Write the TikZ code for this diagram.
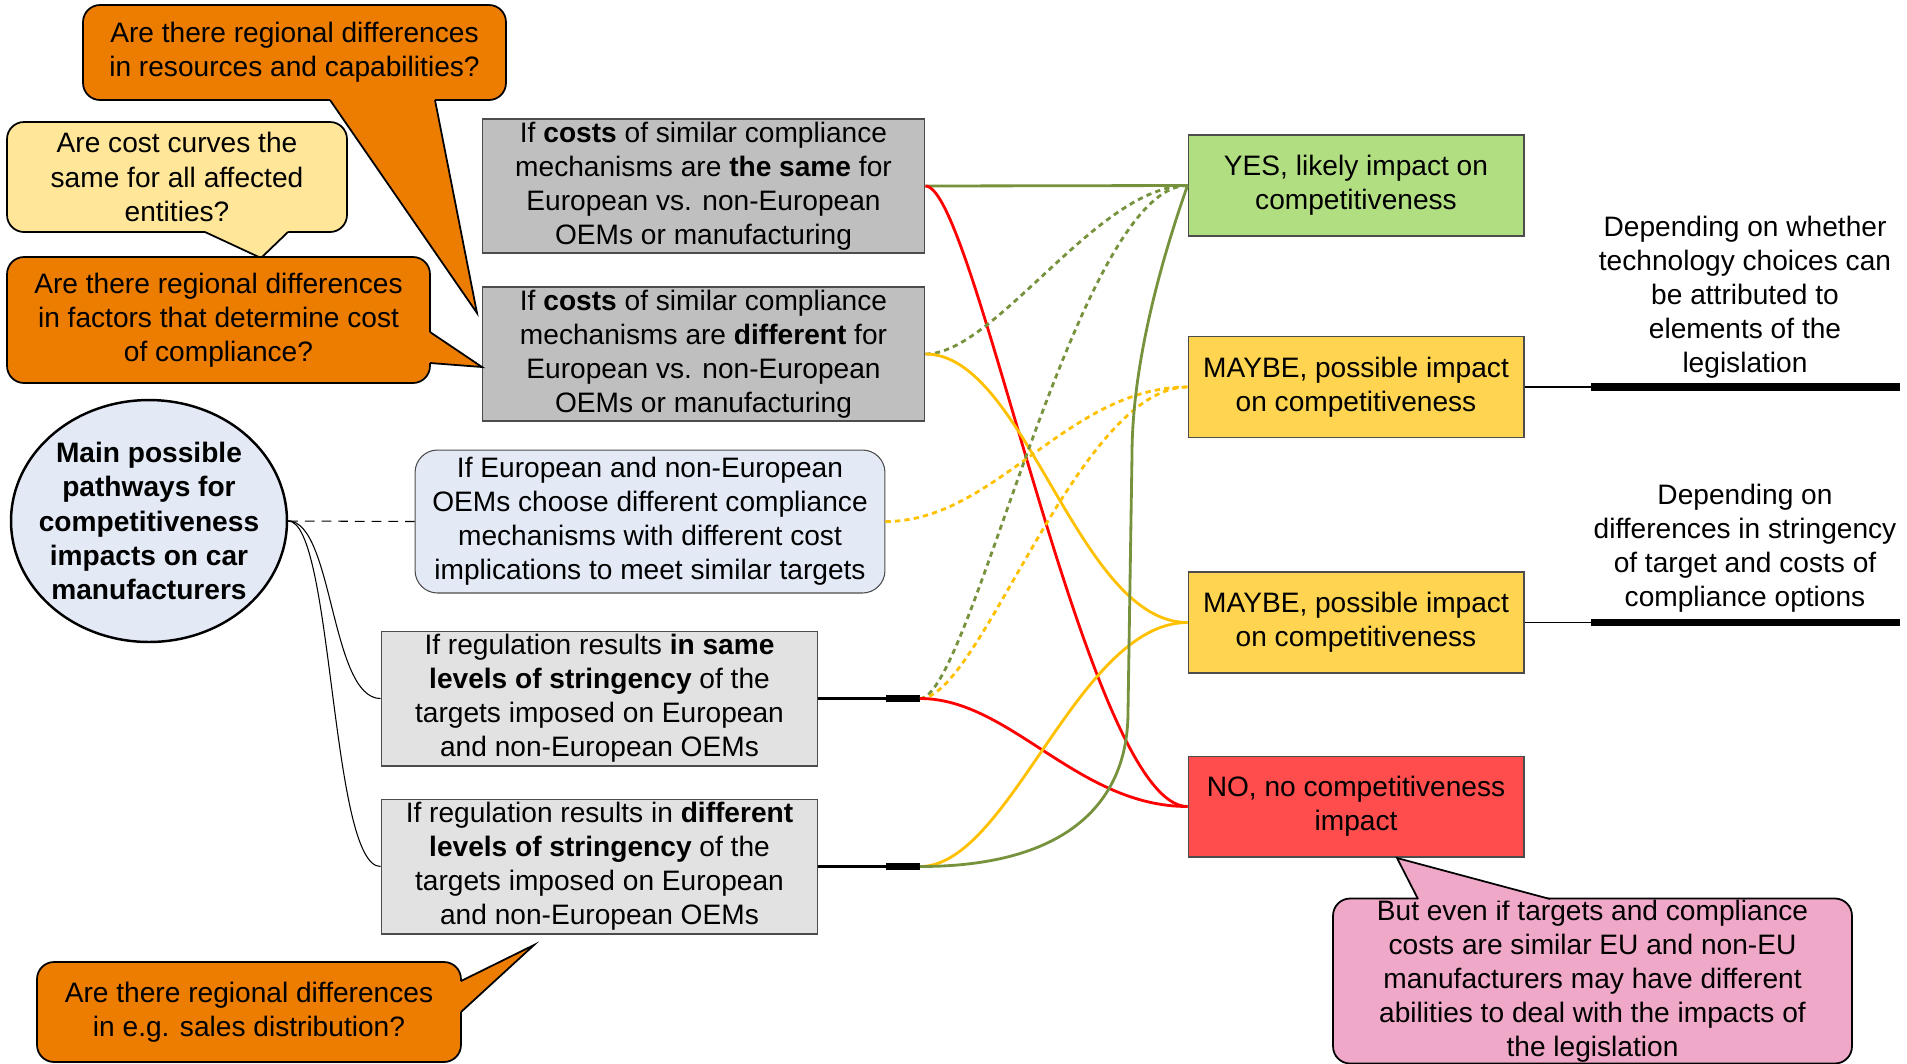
\documentclass[tikz,border=0pt]{standalone}
\usepackage{fontspec}
\setmainfont{Liberation Sans}
\usetikzlibrary{shapes.geometric}

\definecolor{laranja}{RGB}{236,125,0}
\definecolor{amareloclaro}{RGB}{255,230,153}
\definecolor{cinza}{RGB}{191,191,191}
\definecolor{cinzaclaro}{RGB}{226,226,226}
\definecolor{azulclaro}{RGB}{227,234,246}
\definecolor{verde}{RGB}{178,222,130}
\definecolor{amarelo}{RGB}{255,212,80}
\definecolor{vermelho}{RGB}{255,77,77}
\definecolor{rosa}{RGB}{240,168,200}
\definecolor{oliva}{RGB}{118,146,60}
\definecolor{ouro}{RGB}{255,192,0}

\newcommand{\fonte}{\fontsize{16}{19.4}\selectfont}

\tikzset{
	texto/.style={font=\fonte, align=center, inner sep=0pt},
	caixa/.style={texto, draw=black!70, line width=0.6pt},
	balao/.style={texto, draw=black, line width=1pt, rounded corners=0.34cm},
	ponta/.style={draw=black, line width=1pt, line join=miter},
	fio/.style={line width=1.6pt},
	pontilhado/.style={fio, dash pattern=on 3pt off 2.4pt}
}

\begin{document}
\begin{tikzpicture}[x=0.02cm, y=-0.02cm]
		\useasboundingbox (0,0) rectangle (1907,1063);
		\clip (0,0) rectangle (1907,1063);

		% Elipse central
		\node[texto, ellipse, draw=black, line width=1.4pt, fill=azulclaro, inner xsep=-0.3cm, minimum width=5.52cm, minimum height=4.84cm, font=\fonte\bfseries] (main) at (149,521)
			{Main possible\\pathways for\\competitiveness\\impacts on car\\manufacturers};

		% Caixas de custo
		\node[caixa, fill=cinza, minimum width=8.86cm, minimum height=2.68cm] (cS) at (703.5,186)
			{If \textbf{costs} of similar compliance\\mechanisms are \textbf{the same} for\\European vs. non-European\\OEMs or manufacturing};
		\node[caixa, fill=cinza, minimum width=8.86cm, minimum height=2.68cm] (cD) at (703.5,354)
			{If \textbf{costs} of similar compliance\\mechanisms are \textbf{different} for\\European vs. non-European\\OEMs or manufacturing};
		\node[caixa, fill=azulclaro, rounded corners=0.45cm, minimum width=9.4cm, minimum height=2.86cm] (mC) at (650,521.5)
			{If European and non-European\\OEMs choose different compliance\\mechanisms with different cost\\implications to meet similar targets};

		% Caixas de regulação
		\node[caixa, fill=cinzaclaro, minimum width=8.74cm, minimum height=2.7cm] (rS) at (599.5,698.5)
			{If regulation results \textbf{in same}\\\textbf{levels of stringency} of the\\targets imposed on European\\and non-European OEMs};
		\node[caixa, fill=cinzaclaro, minimum width=8.74cm, minimum height=2.7cm] (rD) at (599.5,866.5)
			{If regulation results in \textbf{different}\\\textbf{levels of stringency} of the\\targets imposed on European\\and non-European OEMs};

		% Resultados
		\node[caixa, fill=verde, minimum width=6.72cm, minimum height=2.02cm] (yes) at (1356,185.5)
			{YES, likely impact on\\competitiveness};
		\node[caixa, fill=amarelo, minimum width=6.72cm, minimum height=2.02cm] (mayA) at (1356,387)
			{MAYBE, possible impact\\on competitiveness};
		\node[caixa, fill=amarelo, minimum width=6.72cm, minimum height=2.02cm] (mayB) at (1356,622.5)
			{MAYBE, possible impact\\on competitiveness};
		\node[caixa, fill=vermelho, minimum width=6.72cm, minimum height=2.02cm] (no) at (1356,806.5)
			{NO, no competitiveness\\impact};

		% Notas à direita
		\node[texto] (depA) at (1745,297)
			{Depending on whether\\technology choices can\\be attributed to\\elements of the\\legislation};
		\node[texto] (depB) at (1745,548.5)
			{Depending on\\differences in stringency\\of target and costs of\\compliance options};
		\coordinate (lA) at (1591,387);
		\coordinate (eA) at (1900,387);
		\coordinate (lB) at (1591,622.5);
		\coordinate (eB) at (1900,622.5);
		\draw[line width=0.6pt] (mayA.east) -- (lA);
		\draw[line width=4.5pt] (lA) -- (eA);
		\draw[line width=0.6pt] (mayB.east) -- (lB);
		\draw[line width=4.5pt] (lB) -- (eB);

		% Ligações da elipse
		\draw[line width=0.6pt, dash pattern=on 5.5pt off 4pt] (main.east) -- (mC.west);
		\draw[line width=0.6pt] (main.east) .. controls +(45,0) and +(-50,0) .. (rS.west);
		\draw[line width=0.6pt] (main.east) .. controls +(45,0) and +(-50,0) .. (rD.west);

		% Saídas das caixas de regulação
		\coordinate (kS) at (886,698.5);
		\coordinate (sS) at (920,698.5);
		\coordinate (kD) at (886,866.5);
		\coordinate (sD) at (920,866.5);
		\draw[line width=1.2pt] (rS.east) -- (kS);
		\draw[line width=4.5pt] (kS) -- (sS);
		\draw[line width=1.2pt] (rD.east) -- (kD);
		\draw[line width=4.5pt] (kD) -- (sD);

		% Ligações coloridas
		\draw[fio, oliva] (cS.east) -- (yes.west);
		\draw[fio, red] (cS.east) .. controls +(50,0) and +(-100,0) .. (no.west);
		\draw[pontilhado, oliva] (cD.east) .. controls +(70,0) and +(-90,0) .. (yes.west);
		\draw[fio, ouro] (cD.east) .. controls +(100,0) and +(-110,0) .. (mayB.west);
		\draw[pontilhado, ouro] (mC.east) .. controls +(110,0) and +(-120,0) .. (mayA.west);
		\draw[pontilhado, oliva] (sS) .. controls +(50,0) and +(-110,0) .. (yes.west);
		\draw[pontilhado, ouro] (sS) .. controls +(60,0) and +(-110,0) .. (mayA.west);
		\draw[fio, red] (sS) .. controls +(90,0) and +(-110,0) .. (no.west);
		\draw[fio, ouro] (sD) .. controls +(90,0) and +(-110,0) .. (mayB.west);
		\draw[fio, oliva] (sD) .. controls +(150,0) and +(0,88) .. (1128,712) -- (1132,455)
			.. controls +(0,-100) and +(-20,57) .. (yes.west);

		% Balões de perguntas
		\node[balao, fill=laranja, minimum width=8.46cm, minimum height=1.9cm] (qA) at (294.5,52.5)
			{Are there regional differences\\in resources and capabilities?};
		\fill[laranja] (330,96) -- (330,100) -- (477,313) -- (435,100) -- (435,96) -- cycle;
		\draw[ponta] (330,100) -- (477,313) -- (435,100);

		\node[balao, fill=amareloclaro, minimum width=6.8cm, minimum height=2.2cm] (qB) at (177,177)
			{Are cost curves the\\same for all affected\\entities?};
		\fill[amareloclaro] (205,228) -- (205,232) -- (261,258) -- (288,232) -- (288,228) -- cycle;
		\draw[ponta] (205,232) -- (261,258) -- (288,232);

		\node[balao, fill=laranja, minimum width=8.46cm, minimum height=2.52cm] (qC) at (218.5,320)
			{Are there regional differences\\in factors that determine cost\\of compliance?};
		\fill[laranja] (426,332) -- (430,332) -- (482,367) -- (430,363) -- (426,363) -- cycle;
		\draw[ponta] (430,332) -- (482,367) -- (430,363);

		\node[balao, fill=laranja, minimum width=8.48cm, minimum height=2cm] (qD) at (249,1012)
			{Are there regional differences\\in e.g. sales distribution?};
		\fill[laranja] (457,981) -- (461,981) -- (534,945) -- (461,1012) -- (457,1012) -- cycle;
		\draw[ponta] (461,981) -- (534,945) -- (461,1012);

		% Balão rosa
		\node[balao, fill=rosa, minimum width=10.38cm, minimum height=3.3cm] (pk) at (1592.5,981)
			{But even if targets and compliance\\costs are similar EU and non-EU\\manufacturers may have different\\abilities to deal with the impacts of\\the legislation};
		\fill[rosa] (1418,900.5) -- (1418,899) -- (1397,858) -- (1550,899) -- (1550,900.5) -- cycle;
		\draw[ponta] (1418,899) -- (1397,858) -- (1550,899);
	\end{tikzpicture}
\end{document}
